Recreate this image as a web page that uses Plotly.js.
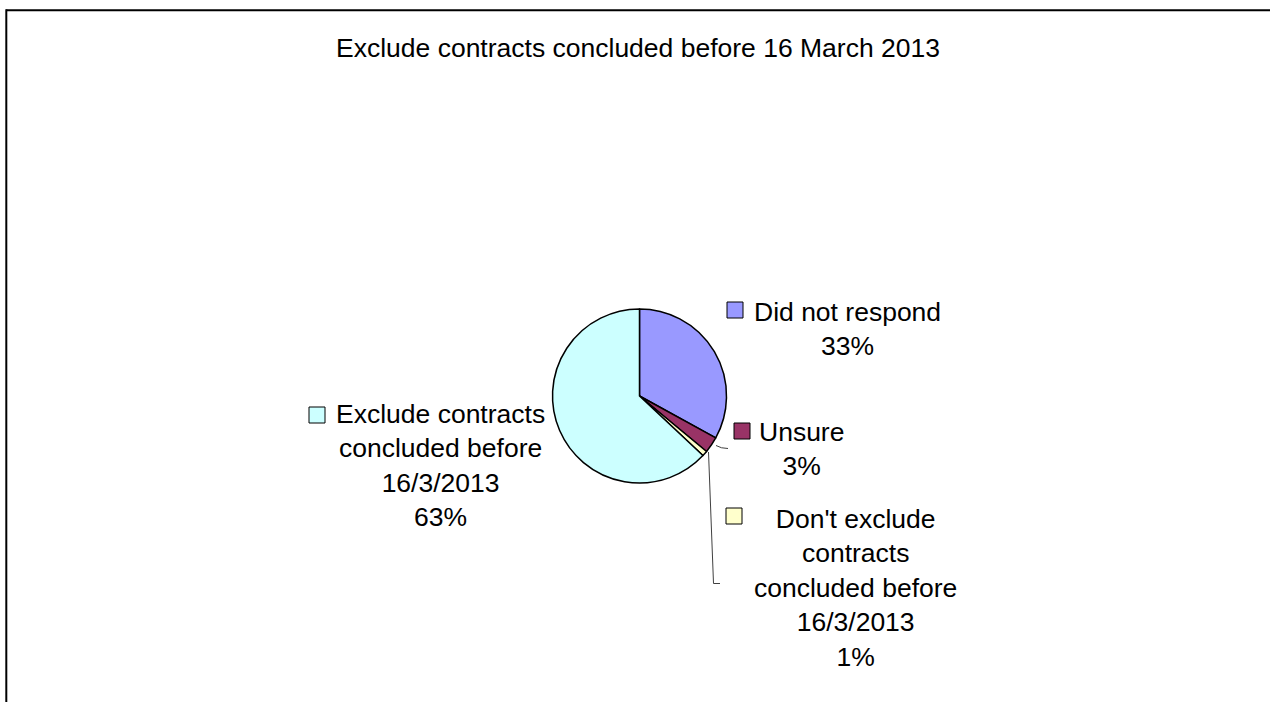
<!DOCTYPE html>
<html>
<head>
<meta charset="utf-8">
<script src="https://cdn.plot.ly/plotly-3.0.1.min.js"></script>
<style>html,body{margin:0;padding:0;background:#fff;}#chart{width:1270px;height:702px;}</style>
</head>
<body>
<div id="chart"></div>
<script>
// ---- data ----
const categories = ["Did not respond", "Unsure", "Don't exclude contracts concluded before 16/3/2013", "Exclude contracts concluded before 16/3/2013"];
const labelLines = [["Did not respond"], ["Unsure"], ["Don't exclude", "contracts", "concluded before", "16/3/2013"], ["Exclude contracts", "concluded before", "16/3/2013"]];
const values = [33, 3, 1, 63];
const colors = ["#9999FF", "#993366", "#FFFFCC", "#CCFFFF"];
const chartTitle = "Exclude contracts concluded before 16 March 2013";

// ---- layout helpers (pixel -> paper) ----
const W = 1270, H = 702;
const px = x => x / W;
const py = y => 1 - y / H;

// label placement (text centre x, block middle y, key square left/top)
const labelPos = [
  {x: 847, y: 329, kx: 727, ky: 302},
  {x: 801, y: 449, kx: 734, ky: 423},
  {x: 855, y: 588, kx: 726, ky: 508},
  {x: 440, y: 465, kx: 309, ky: 407}
];
const keySize = 16;

const cx = 639.5, cy = 396, R = 87;

const total = values.reduce((a, b) => a + b, 0);
const font = {family: "Liberation Sans, Arial, sans-serif", size: 26.5, color: "#000"};

const annotations = categories.map((c, i) => ({
  xref: "paper", yref: "paper",
  x: px(labelPos[i].x), y: py(labelPos[i].y),
  xanchor: "center", yanchor: "middle",
  showarrow: false, align: "center",
  text: labelLines[i].join("<br>") + "<br>" + Math.round(values[i] / total * 100) + "%",
  font: font
}));

const shapes = [];
// frame lines (top and left)
shapes.push({type: "line", xref: "paper", yref: "paper", x0: px(6.3), x1: 1.01, y0: py(10.3), y1: py(10.3), line: {color: "#000", width: 2}});
shapes.push({type: "line", xref: "paper", yref: "paper", x0: px(6.3), x1: px(6.3), y0: py(9.3), y1: -0.01, line: {color: "#000", width: 2}});
// legend key squares
labelPos.forEach((p, i) => {
  shapes.push({type: "rect", xref: "paper", yref: "paper",
    x0: px(p.kx), x1: px(p.kx + keySize), y0: py(p.ky), y1: py(p.ky + keySize),
    fillcolor: colors[i], line: {color: "#000", width: 1}});
});
// leader lines
shapes.push({type: "path", xref: "paper", yref: "paper",
  path: `M ${px(716)} ${py(445.5)} Q ${px(721)} ${py(448.5)} ${px(728)} ${py(448.5)}`,
  line: {color: "#404040", width: 1}});
shapes.push({type: "path", xref: "paper", yref: "paper",
  path: `M ${px(708.5)} ${py(452)} L ${px(713.5)} ${py(583.5)} L ${px(720)} ${py(583.5)}`,
  line: {color: "#404040", width: 1}});

const trace = {
  type: "pie",
  labels: categories,
  values: values,
  sort: false,
  direction: "clockwise",
  rotation: 0,
  textinfo: "none",
  hoverinfo: "label+percent",
  marker: {colors: colors, line: {color: "#000", width: 1.5}},
  domain: {x: [px(cx - R), px(cx + R)], y: [py(cy + R), py(cy - R)]},
  showlegend: false
};

const layout = {
  width: W, height: H,
  margin: {l: 0, r: 0, t: 0, b: 0},
  paper_bgcolor: "#fff",
  showlegend: false,
  title: {text: chartTitle, font: font, x: px(638), xanchor: "center", xref: "paper",
          y: py(48), yanchor: "middle", yref: "container"},
  annotations: annotations,
  shapes: shapes
};

Plotly.newPlot("chart", [trace], layout, {displayModeBar: false, staticPlot: true});
</script>
</body>
</html>
